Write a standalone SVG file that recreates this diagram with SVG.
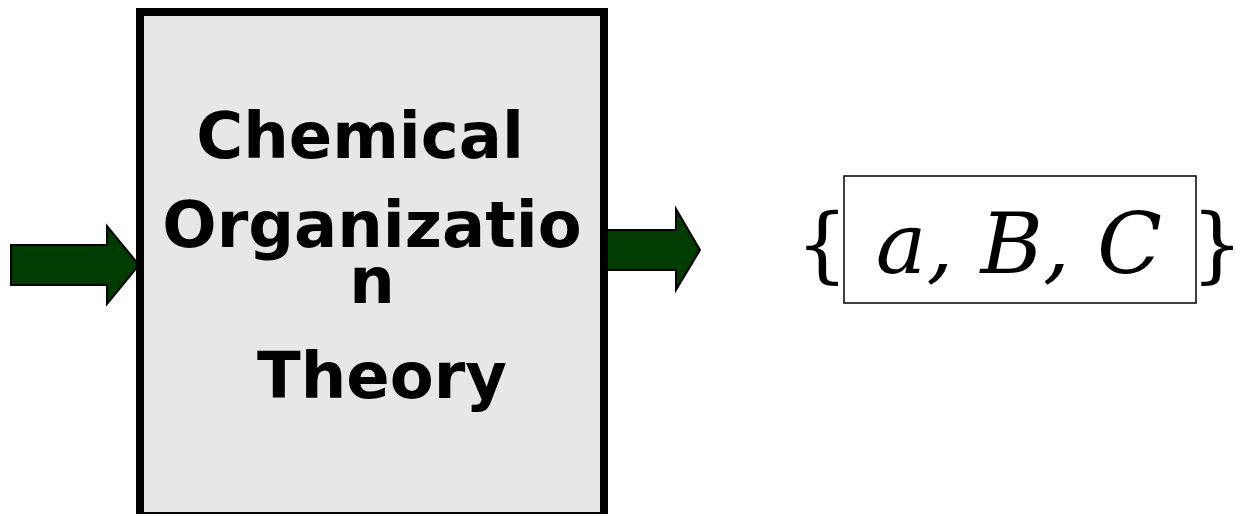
<svg xmlns="http://www.w3.org/2000/svg" width="1236" height="514" viewBox="0 0 1236 514">
<style>
.arrow{fill:#003c00;stroke:#000;stroke-width:2;stroke-linejoin:miter}
.title{font-family:"DejaVu Sans",sans-serif;font-weight:bold;font-size:64px;fill:#000;text-anchor:middle}
.math{font-family:"DejaVu Serif",serif;font-size:82px;fill:#000;text-anchor:middle}
.mi{font-size:85px;font-style:italic}
</style>
<rect width="1236" height="514" fill="#fff"/>
<g id="connectors">
<polygon class="arrow" points="11,245 107,245 107,226 139,265 107,304 107,285 11,285"/>
<polygon class="arrow" points="600,230 676,230 676,209 700,250 676,290 676,270 600,270"/>
</g>
<g id="node-theory">
<rect x="140" y="12" width="464" height="504" fill="#e7e7e7" stroke="#000" stroke-width="8"/>
<text class="title" x="360" y="158">Chemical</text>
<text class="title" x="372" y="247">Organizatio</text>
<text class="title" x="372" y="303">n</text>
<text class="title" x="382" y="398">Theory</text>
</g>
<g id="node-set">
<text class="math" x="822" y="273">{</text>
<rect x="844" y="176" width="352" height="127" fill="none" stroke="#000" stroke-width="1.5"/>
<text class="math mi" x="1019" y="273">a, B, C</text>
<text class="math" x="1217" y="273">}</text>
</g>
</svg>
